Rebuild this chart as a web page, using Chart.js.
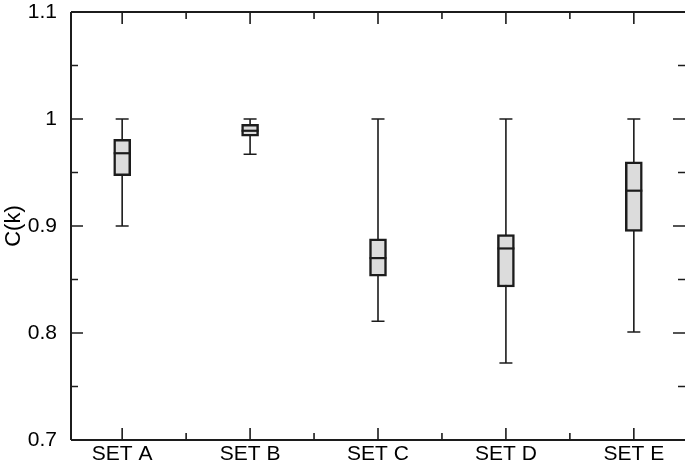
<!DOCTYPE html>
<html>
<head>
<meta charset="utf-8">
<script src="https://cdn.jsdelivr.net/npm/chart.js@4/dist/chart.umd.min.js"></script>
<style>
  html, body { margin: 0; padding: 0; background: #fff; }
  #wrap { width: 685px; height: 470px; }
</style>
</head>
<body>
<div id="wrap"><canvas id="myChart"></canvas></div>
<script>
// box plot data
const categories = ['SET A', 'SET B', 'SET C', 'SET D', 'SET E'];
const whiskerLow = [0.900, 0.967, 0.811, 0.772, 0.801];
const q1 = [0.947, 0.984, 0.853, 0.843, 0.895];
const median = [0.968, 0.989, 0.870, 0.879, 0.933];
const q3 = [0.981, 0.995, 0.888, 0.892, 0.960];
const whiskerHigh = [1.000, 1.000, 1.000, 1.000, 1.000];
const yTicks = [0.7, 0.8, 0.9, 1.0, 1.1];
const yMinorTicks = [0.75, 0.85, 0.95, 1.05];
const xMinorTicks = [1.5, 2.5, 3.5, 4.5];

const INK = '#1c1c1c';
const BOX_W = 17;
const CAP_W = 13;
const FONT = 'Liberation Sans, Arial, sans-serif';

// whiskers behind the boxes, medians on top, frame + inward ticks last
const boxPlugin = {
  id: 'boxParts',
  beforeDatasetsDraw(chart) {
    const { ctx, scales: { x, y } } = chart;
    ctx.save();
    ctx.strokeStyle = INK;
    ctx.lineWidth = 1.6;
    categories.forEach((c, i) => {
      const px = x.getPixelForValue(i + 1);
      const lo = y.getPixelForValue(whiskerLow[i]);
      const hi = y.getPixelForValue(whiskerHigh[i]);
      ctx.beginPath();
      ctx.moveTo(px, lo); ctx.lineTo(px, hi);
      ctx.moveTo(px - CAP_W / 2, lo); ctx.lineTo(px + CAP_W / 2, lo);
      ctx.moveTo(px - CAP_W / 2, hi); ctx.lineTo(px + CAP_W / 2, hi);
      ctx.stroke();
    });
    ctx.restore();
  },
  afterDatasetsDraw(chart) {
    const { ctx, scales: { x, y } } = chart;
    ctx.save();
    ctx.strokeStyle = INK;
    ctx.lineWidth = 2.2;
    categories.forEach((c, i) => {
      const px = x.getPixelForValue(i + 1);
      const py = y.getPixelForValue(median[i]);
      ctx.beginPath();
      ctx.moveTo(px - BOX_W / 2, py); ctx.lineTo(px + BOX_W / 2, py);
      ctx.stroke();
    });

    const a = chart.chartArea;
    ctx.lineWidth = 2;
    ctx.beginPath();
    ctx.moveTo(a.left, a.bottom); ctx.lineTo(a.right, a.bottom);
    ctx.moveTo(a.left, a.top); ctx.lineTo(a.right, a.top);
    ctx.moveTo(a.left, a.top); ctx.lineTo(a.left, a.bottom);
    ctx.stroke();

    ctx.lineWidth = 1.6;
    ctx.beginPath();
    yTicks.forEach(v => {
      const py = y.getPixelForValue(v);
      ctx.moveTo(a.left, py); ctx.lineTo(a.left + 12, py);
      ctx.moveTo(a.right, py); ctx.lineTo(a.right - 12, py);
    });
    yMinorTicks.forEach(v => {
      const py = y.getPixelForValue(v);
      ctx.moveTo(a.left, py); ctx.lineTo(a.left + 7, py);
      ctx.moveTo(a.right, py); ctx.lineTo(a.right - 7, py);
    });
    categories.forEach((c, i) => {
      const px = x.getPixelForValue(i + 1);
      ctx.moveTo(px, a.bottom); ctx.lineTo(px, a.bottom - 12);
      ctx.moveTo(px, a.top); ctx.lineTo(px, a.top + 12);
    });
    xMinorTicks.forEach(v => {
      const px = x.getPixelForValue(v);
      ctx.moveTo(px, a.bottom); ctx.lineTo(px, a.bottom - 7);
      ctx.moveTo(px, a.top); ctx.lineTo(px, a.top + 7);
    });
    ctx.stroke();
    ctx.restore();
  }
};

const ctx = document.getElementById('myChart').getContext('2d');
const myChart = new Chart(ctx, {
  type: 'bar',
  data: {
    datasets: [{
      data: categories.map((c, i) => ({ x: i + 1, y: [q1[i], q3[i]] })),
      backgroundColor: '#dcdcdc',
      borderColor: INK,
      borderWidth: 2.5,
      borderSkipped: false,
      barThickness: BOX_W
    }]
  },
  options: {
    responsive: true,
    maintainAspectRatio: false,
    animation: false,
    layout: { padding: { top: 12, right: 0, left: 0, bottom: 0 } },
    plugins: { legend: { display: false }, tooltip: { enabled: false } },
    scales: {
      x: {
        type: 'linear',
        min: 0.6,
        max: 5.4,
        offset: false,
        grid: { display: false, offset: false },
        border: { display: false },
        afterBuildTicks: s => { s.ticks = categories.map((c, i) => ({ value: i + 1 })); },
        afterFit: s => { s.height = 30; s.paddingLeft = 0; s.paddingRight = 0; },
        ticks: {
          color: '#000',
          padding: -6,
          maxRotation: 0,
          autoSkip: false,
          font: { family: FONT, size: 21 },
          callback: v => categories[v - 1]
        }
      },
      y: {
        min: 0.7,
        max: 1.1,
        grid: { display: false },
        border: { display: false },
        afterBuildTicks: s => { s.ticks = yTicks.map(v => ({ value: v })); },
        afterFit: s => { s.width = 71; s.paddingTop = 0; s.paddingBottom = 0; },
        title: {
          display: true,
          text: 'C(k)',
          color: '#000',
          padding: { top: 1, bottom: 0 },
          font: { family: FONT, size: 22 }
        },
        ticks: {
          color: '#000',
          padding: 6,
          font: { family: FONT, size: 21 },
          callback: v => (Math.abs(v - 1) < 1e-9 ? '1' : v.toFixed(1))
        }
      }
    }
  },
  plugins: [boxPlugin]
});
</script>
</body>
</html>
